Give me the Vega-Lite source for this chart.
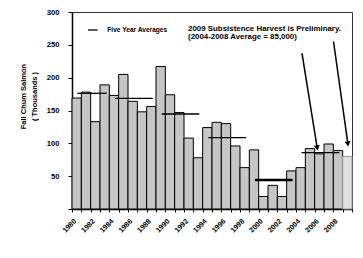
{
  "$schema": "https://vega.github.io/schema/vega-lite/v6.json",
  "width": 280,
  "height": 197,
  "autosize": "none",
  "padding": {"left": 72, "top": 12, "right": 11, "bottom": 49},
  "background": "white",
  "config": {
    "font": "Liberation Sans",
    "view": {"stroke": "#333333", "strokeWidth": 1},
    "axis": {"labelFont": "Liberation Sans", "labelFontWeight": "bold", "labelColor": "black", "titleFont": "Liberation Sans", "titleColor": "black", "domainColor": "black", "tickColor": "black", "grid": false, "labelOverlap": false}
  },
  "datasets": {
    "harvest": [
      {"start": 1980, "end": 1981, "value": 169}, {"start": 1981, "end": 1982, "value": 178},
      {"start": 1982, "end": 1983, "value": 133}, {"start": 1983, "end": 1984, "value": 189},
      {"start": 1984, "end": 1985, "value": 173}, {"start": 1985, "end": 1986, "value": 205},
      {"start": 1986, "end": 1987, "value": 164}, {"start": 1987, "end": 1988, "value": 148},
      {"start": 1988, "end": 1989, "value": 156}, {"start": 1989, "end": 1990, "value": 217},
      {"start": 1990, "end": 1991, "value": 174}, {"start": 1991, "end": 1992, "value": 147},
      {"start": 1992, "end": 1993, "value": 108}, {"start": 1993, "end": 1994, "value": 78},
      {"start": 1994, "end": 1995, "value": 124}, {"start": 1995, "end": 1996, "value": 132},
      {"start": 1996, "end": 1997, "value": 130}, {"start": 1997, "end": 1998, "value": 96},
      {"start": 1998, "end": 1999, "value": 63}, {"start": 1999, "end": 2000, "value": 90},
      {"start": 2000, "end": 2001, "value": 19}, {"start": 2001, "end": 2002, "value": 36},
      {"start": 2002, "end": 2003, "value": 19}, {"start": 2003, "end": 2004, "value": 58},
      {"start": 2004, "end": 2005, "value": 63}, {"start": 2005, "end": 2006, "value": 92},
      {"start": 2006, "end": 2007, "value": 84}, {"start": 2007, "end": 2008, "value": 99},
      {"start": 2008, "end": 2009, "value": 89}, {"start": 2009, "end": 2010, "value": 80, "status": "preliminary"}
    ],
    "averages": [
      {"series": "Five Year Averages", "start": 1980.57, "end": 1983.72, "value": 176.2, "period": "1980-1984"},
      {"series": "Five Year Averages", "start": 1984.6, "end": 1988.64, "value": 168.6, "period": "1985-1989"},
      {"series": "Five Year Averages", "start": 1989.6, "end": 1993.64, "value": 144.7, "period": "1990-1994"},
      {"series": "Five Year Averages", "start": 1994.6, "end": 1998.64, "value": 108.6, "period": "1995-1999"},
      {"series": "Five Year Averages", "start": 1999.6, "end": 2003.64, "value": 44.2, "period": "2000-2004"},
      {"series": "Five Year Averages", "start": 2004.6, "end": 2008.64, "value": 85.7, "period": "2005-2009"}
    ],
    "arrows": [
      {"start": 2004.64, "value": 237.4, "end": 2006.27, "value2": 93.0},
      {"start": 2008.02, "value": 255.1, "end": 2009.56, "value2": 99.1}
    ],
    "notes": [
      {"start": 1992.43, "value": 273.5, "note": "2009 Subsistence Harvest is Preliminary."},
      {"start": 1992.43, "value": 262.0, "note": "(2004-2008 Average = 85,000)"}
    ]
  },
  "encoding": {
    "x": {"field": "start", "type": "quantitative",
          "scale": {"domain": [1980, 2010], "nice": false, "zero": false},
          "axis": {"values": [1980,1981,1982,1983,1984,1985,1986,1987,1988,1989,1990,1991,1992,1993,1994,1995,1996,1997,1998,1999,2000,2001,2002,2003,2004,2005,2006,2007,2008,2009,2010],
                   "labelExpr": "datum.value % 2 == 0 && datum.value < 2010 ? format(datum.value, 'd') : ''",
                   "labelAngle": -45, "labelAlign": "right", "labelBaseline": "top",
                   "labelFontSize": 7.2, "labelPadding": 5, "tickSize": 3, "domainWidth": 1.5, "tickWidth": 1,
                   "title": null, "labelOverlap": false, "labelBound": false, "labelFlush": false}},
    "y": {"field": "value", "type": "quantitative",
          "scale": {"domain": [0, 300], "nice": false},
          "axis": {"values": [0, 50, 100, 150, 200, 250, 300],
                   "labelExpr": "datum.value == 0 ? '' : datum.label", "labelOverlap": false,
                   "labelFontSize": 7.6, "labelPadding": 9, "tickSize": 4, "domainWidth": 1.5,
                   "title": ["Fall Chum Salmon", "( Thousands )"],
                   "titleFontSize": 7.5, "titleFontWeight": "bold", "titleLineHeight": 10.5,
                   "titleX": -44.5, "titleY": 84, "titleAngle": -90, "titleBaseline": "bottom", "titleAlign": "center"}}
  },
  "layer": [
    {
      "data": {"name": "harvest"},
      "mark": {"type": "rect", "strokeWidth": 1},
      "encoding": {
        "x2": {"field": "end"},
        "y2": {"datum": 0},
        "fill": {"condition": {"test": "datum.status == 'preliminary'", "value": "#e0e0e0"}, "value": "#c6c6c6"},
        "stroke": {"condition": {"test": "datum.status == 'preliminary'", "value": "#999999"}, "value": "black"}
      }
    },
    {
      "data": {"name": "averages"},
      "mark": {"type": "rule"},
      "encoding": {
        "x2": {"field": "end"},
        "color": {"field": "series", "type": "nominal",
                  "scale": {"range": ["black"]},
                  "legend": {"title": null, "orient": "none", "legendX": 15.3, "legendY": 12.5, "padding": 0,
                             "symbolType": "stroke", "symbolSize": 90, "symbolStrokeWidth": 1.3, "symbolStrokeColor": "black",
                             "labelFont": "Liberation Sans", "labelFontWeight": "bold", "labelFontSize": 6.6, "labelColor": "black", "labelOffset": 9}},
        "strokeWidth": {"condition": {"test": "datum.period == '2000-2004'", "value": 2.3}, "value": 1.3}
      }
    },
    {
      "data": {"name": "arrows"},
      "mark": {"type": "rule", "color": "black", "strokeWidth": 1.5},
      "encoding": {
        "x2": {"field": "end"},
        "y2": {"field": "value2"}
      }
    },
    {
      "data": {"name": "arrows"},
      "mark": {"type": "point", "shape": "triangle-down", "filled": true, "color": "black", "size": 36, "angle": -8.5, "opacity": 1},
      "encoding": {
        "x": {"field": "end", "type": "quantitative"},
        "y": {"field": "value2", "type": "quantitative"}
      }
    },
    {
      "data": {"name": "notes"},
      "mark": {"type": "text", "align": "left", "baseline": "middle", "font": "Liberation Sans", "fontWeight": "bold", "fontSize": 7.9, "color": "black"},
      "encoding": {
        "text": {"field": "note"}
      }
    }
  ]
}
